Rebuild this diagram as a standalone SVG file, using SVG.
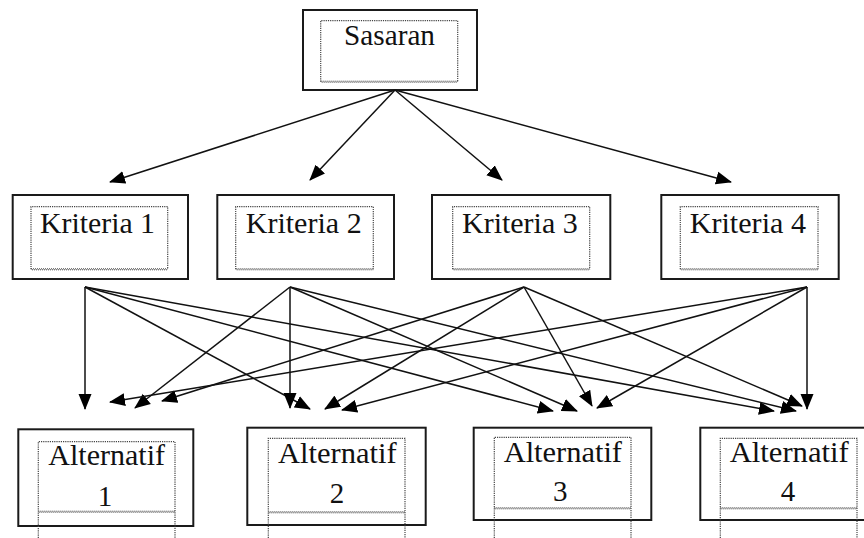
<svg xmlns="http://www.w3.org/2000/svg" width="864" height="538" viewBox="0 0 864 538">
<style>
.outer{fill:none;stroke:#1a1a1a;stroke-width:2}
.inner{fill:none;stroke:#444;stroke-width:1.2;stroke-dasharray:1.2 1}
.wave{fill:none;stroke:#444;stroke-width:1;stroke-dasharray:1 1}
.wave2{fill:none;stroke:#444;stroke-width:1;stroke-dasharray:1 1;stroke-dashoffset:1}
.lbl{font-family:'Liberation Serif','Times New Roman',serif;font-size:29px;fill:#111}
.conn line{stroke:#111;stroke-width:1.5;marker-end:url(#ah)}
</style>
<defs>
<marker id="ah" markerUnits="userSpaceOnUse" markerWidth="16" markerHeight="14" refX="15" refY="6.5" orient="auto" viewBox="0 0 16 13">
<path d="M0,0 L16,6.5 L0,13 z" fill="#000"/>
</marker>
</defs>

<g id="sasaran">
<rect class="outer" x="303" y="10" width="174" height="80"/>
<path class="inner" d="M320.7,81.7 V20.7 H457.7 V81.7"/>
<line class="wave" x1="320.7" y1="81.2" x2="457.7" y2="81.2"/>
<line class="wave2" x1="320.7" y1="82.2" x2="457.7" y2="82.2"/>
<text class="lbl" font-family="Liberation Serif, serif" x="344" y="45" textLength="91" lengthAdjust="spacingAndGlyphs">Sasaran</text>
</g>

<g id="kriteria1">
<rect class="outer" x="12.7" y="195" width="175.3" height="84"/>
<path class="inner" d="M31,269.3 V206.7 H167.7 V269.3"/>
<line class="wave" x1="31" y1="268.8" x2="167.7" y2="268.8"/>
<line class="wave2" x1="31" y1="269.8" x2="167.7" y2="269.8"/>
<text class="lbl" font-family="Liberation Serif, serif" x="40" y="233" textLength="115" lengthAdjust="spacingAndGlyphs">Kriteria 1</text>
</g>
<g id="kriteria2">
<rect class="outer" x="217.3" y="195" width="176.7" height="84"/>
<path class="inner" d="M235.7,269.3 V206.7 H373.3 V269.3"/>
<line class="wave" x1="235.7" y1="268.8" x2="373.3" y2="268.8"/>
<line class="wave2" x1="235.7" y1="269.8" x2="373.3" y2="269.8"/>
<text class="lbl" font-family="Liberation Serif, serif" x="245.7" y="233" textLength="116" lengthAdjust="spacingAndGlyphs">Kriteria 2</text>
</g>
<g id="kriteria3">
<rect class="outer" x="432" y="195" width="178.3" height="84"/>
<path class="inner" d="M452.7,269.3 V206.7 H589.7 V269.3"/>
<line class="wave" x1="452.7" y1="268.8" x2="589.7" y2="268.8"/>
<line class="wave2" x1="452.7" y1="269.8" x2="589.7" y2="269.8"/>
<text class="lbl" font-family="Liberation Serif, serif" x="462" y="233" textLength="115.7" lengthAdjust="spacingAndGlyphs">Kriteria 3</text>
</g>
<g id="kriteria4">
<rect class="outer" x="661.3" y="195" width="177.4" height="84"/>
<path class="inner" d="M680.3,269.3 V206.7 H818 V269.3"/>
<line class="wave" x1="680.3" y1="268.8" x2="818" y2="268.8"/>
<line class="wave2" x1="680.3" y1="269.8" x2="818" y2="269.8"/>
<text class="lbl" font-family="Liberation Serif, serif" x="689.7" y="233" textLength="116.3" lengthAdjust="spacingAndGlyphs">Kriteria 4</text>
</g>

<g id="alternatif1">
<rect class="outer" x="18.3" y="429.3" width="175" height="96.7"/>
<path class="inner" d="M38.3,538 V441.7 H175 V538"/>
<line class="wave" x1="38.3" y1="511.2" x2="175" y2="511.2"/>
<line class="wave2" x1="38.3" y1="512.2" x2="175" y2="512.2"/>
<text class="lbl" font-family="Liberation Serif, serif" x="48.3" y="465" textLength="116.7" lengthAdjust="spacingAndGlyphs">Alternatif</text>
<text class="lbl" font-family="Liberation Serif, serif" x="105" y="506" text-anchor="middle">1</text>
</g>
<g id="alternatif2">
<rect class="outer" x="247.3" y="427.7" width="178.4" height="97.3"/>
<path class="inner" d="M268.3,538 V438.3 H405 V538"/>
<line class="wave" x1="268.3" y1="511.8" x2="405" y2="511.8"/>
<line class="wave2" x1="268.3" y1="512.8" x2="405" y2="512.8"/>
<text class="lbl" font-family="Liberation Serif, serif" x="278" y="463.3" textLength="118.7" lengthAdjust="spacingAndGlyphs">Alternatif</text>
<text class="lbl" font-family="Liberation Serif, serif" x="337" y="503.3" text-anchor="middle">2</text>
</g>
<g id="alternatif3">
<rect class="outer" x="473.7" y="427.7" width="177.6" height="92.3"/>
<path class="inner" d="M494.3,538 V437.3 H631 V538"/>
<line class="wave" x1="494.3" y1="507.8" x2="631" y2="507.8"/>
<line class="wave2" x1="494.3" y1="508.8" x2="631" y2="508.8"/>
<text class="lbl" font-family="Liberation Serif, serif" x="503.7" y="461.7" textLength="118.3" lengthAdjust="spacingAndGlyphs">Alternatif</text>
<text class="lbl" font-family="Liberation Serif, serif" x="560.3" y="500.7" text-anchor="middle">3</text>
</g>
<g id="alternatif4">
<rect class="outer" x="700.3" y="427.7" width="170" height="92.3"/>
<path class="inner" d="M720.3,538 V438.3 H857 V538"/>
<line class="wave" x1="720.3" y1="507.8" x2="857" y2="507.8"/>
<line class="wave2" x1="720.3" y1="508.8" x2="857" y2="508.8"/>
<text class="lbl" font-family="Liberation Serif, serif" x="729.7" y="461.7" textLength="119" lengthAdjust="spacingAndGlyphs">Alternatif</text>
<text class="lbl" font-family="Liberation Serif, serif" x="788" y="500.7" text-anchor="middle">4</text>
</g>

<g id="connectors" class="conn">
<line x1="395" y1="90" x2="110" y2="182"/>
<line x1="395" y1="90" x2="310" y2="180"/>
<line x1="395" y1="90" x2="502" y2="180"/>
<line x1="395" y1="90" x2="731" y2="182"/>

<line x1="85" y1="287" x2="85" y2="409"/>
<line x1="85" y1="287" x2="310" y2="409"/>
<line x1="85" y1="287" x2="553" y2="411"/>
<line x1="85" y1="287" x2="774" y2="411"/>

<line x1="290" y1="287" x2="135" y2="408"/>
<line x1="290" y1="287" x2="290" y2="408"/>
<line x1="290" y1="287" x2="577" y2="411"/>
<line x1="290" y1="287" x2="796" y2="411"/>

<line x1="524" y1="287" x2="162" y2="401"/>
<line x1="524" y1="287" x2="325" y2="409"/>
<line x1="524" y1="287" x2="592" y2="406"/>
<line x1="524" y1="287" x2="802" y2="406"/>

<line x1="807" y1="287" x2="110" y2="402"/>
<line x1="807" y1="287" x2="342" y2="410"/>
<line x1="807" y1="287" x2="597" y2="408"/>
<line x1="807" y1="287" x2="807" y2="409"/>
</g>
</svg>
